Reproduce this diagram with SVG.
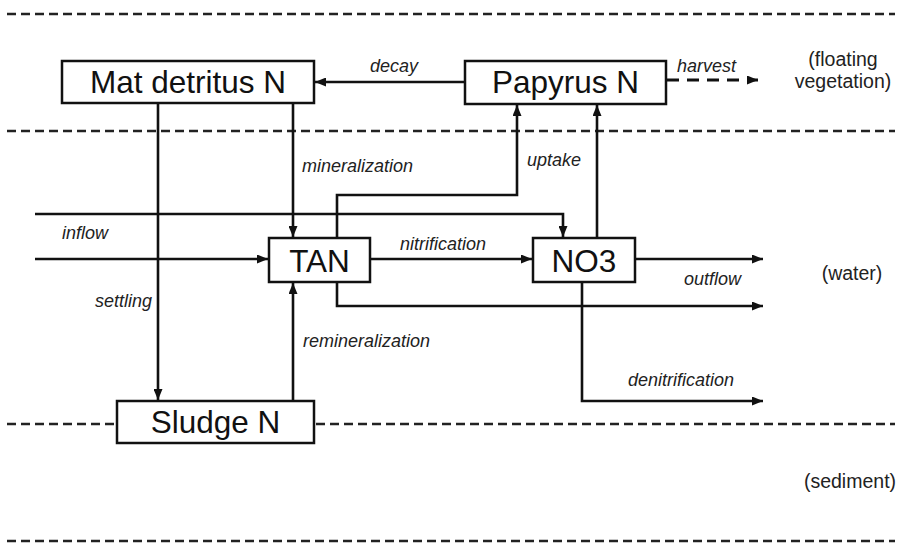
<svg xmlns="http://www.w3.org/2000/svg" width="903" height="543" viewBox="0 0 903 543">
<style>
.bg{fill:#fff}
.box{fill:#fff;stroke:#111;stroke-width:2.5}
.name{font-family:"Liberation Sans",Arial,sans-serif;font-size:31.5px;fill:#111;text-anchor:middle}
.lbl{font-family:"Liberation Sans",Arial,sans-serif;font-size:18px;font-style:italic;fill:#222}
.reg{font-family:"Liberation Sans",Arial,sans-serif;font-size:19.5px;fill:#222;text-anchor:middle}
.sep{stroke:#222;stroke-width:2.5;stroke-dasharray:9 5;fill:none}
.flow{stroke:#111;stroke-width:2.6;fill:none}
.arr{marker-end:url(#ah)}
.dash{stroke-width:3;stroke-dasharray:12 8}
</style>
<defs>
<marker id="ah" viewBox="0 0 11 9" refX="11" refY="4.5" markerWidth="11" markerHeight="9" markerUnits="userSpaceOnUse" orient="auto">
<path d="M0,0 L11,4.5 L0,9 Z" fill="#111"/>
</marker>
</defs>
<rect class="bg" x="0" y="0" width="903" height="543"/>

<g id="layers">
<line class="sep" x1="7" y1="14" x2="895" y2="14"/>
<line class="sep" x1="7" y1="131" x2="895" y2="131"/>
<line class="sep" x1="7" y1="424" x2="117" y2="424"/>
<line class="sep" x1="316" y1="424" x2="895" y2="424"/>
<line class="sep" x1="7" y1="541" x2="895" y2="541"/>
<text class="reg" x="843" y="66">(floating</text>
<text class="reg" x="843" y="88">vegetation)</text>
<text class="reg" x="852" y="280">(water)</text>
<text class="reg" x="850" y="488">(sediment)</text>
</g>

<g id="connectors">
<line class="flow arr" x1="465" y1="82" x2="315" y2="82"/>
<line class="flow arr dash" x1="667" y1="80" x2="758" y2="80"/>
<line class="flow arr" x1="158" y1="103" x2="158" y2="400"/>
<line class="flow arr" x1="293" y1="103" x2="293" y2="237"/>
<line class="flow arr" x1="293" y1="401" x2="293" y2="283"/>
<polyline class="flow arr" points="35,214 563,214 563,237"/>
<line class="flow arr" x1="35" y1="259" x2="268" y2="259"/>
<polyline class="flow arr" points="337,238 337,195 517,195 517,105"/>
<line class="flow arr" x1="597" y1="238" x2="597" y2="105"/>
<line class="flow arr" x1="370" y1="259" x2="532" y2="259"/>
<line class="flow arr" x1="635" y1="259" x2="763" y2="259"/>
<polyline class="flow arr" points="337,282 337,306 763,306"/>
<polyline class="flow arr" points="582,282 582,401 763,401"/>
<text class="lbl" x="370" y="72">decay</text>
<text class="lbl" x="677" y="72">harvest</text>
<text class="lbl" x="302" y="172">mineralization</text>
<text class="lbl" x="527" y="166">uptake</text>
<text class="lbl" x="62" y="239">inflow</text>
<text class="lbl" x="400" y="250">nitrification</text>
<text class="lbl" x="684" y="285">outflow</text>
<text class="lbl" x="95" y="307">settling</text>
<text class="lbl" x="303" y="347">remineralization</text>
<text class="lbl" x="628" y="386">denitrification</text>
</g>

<g id="mat-detritus">
<rect class="box" x="62" y="61" width="252" height="42"/>
<text class="name" x="188" y="93">Mat detritus N</text>
</g>
<g id="papyrus">
<rect class="box" x="465" y="61" width="201" height="43"/>
<text class="name" x="565.5" y="93">Papyrus N</text>
</g>
<g id="tan">
<rect class="box" x="269" y="238" width="101" height="44"/>
<text class="name" x="319.5" y="272">TAN</text>
</g>
<g id="no3">
<rect class="box" x="533" y="238" width="102" height="44"/>
<text class="name" x="584" y="272">NO3</text>
</g>
<g id="sludge">
<rect class="box" x="117" y="401" width="197" height="42"/>
<text class="name" x="215.5" y="433">Sludge N</text>
</g>
</svg>
